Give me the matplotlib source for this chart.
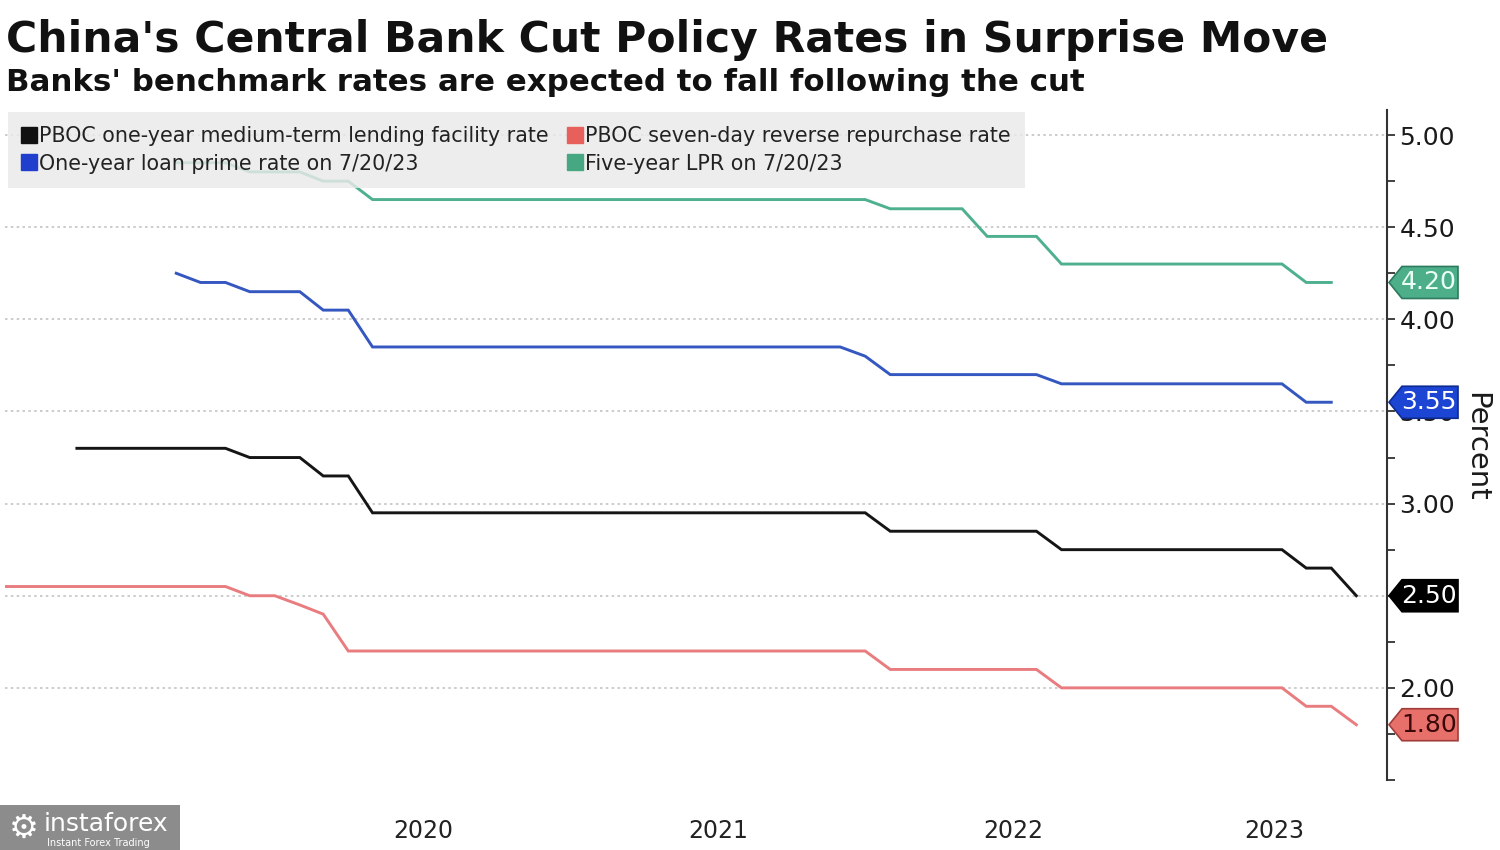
import matplotlib
matplotlib.use("Agg")
import matplotlib.pyplot as plt
import matplotlib.dates as mdates
from matplotlib.patches import Polygon, Rectangle
from matplotlib.lines import Line2D
import numpy as np
import pandas as pd

# ---------------- data (month-end observations) ----------------
months = pd.date_range("2019-01-31", "2023-08-31", freq="ME")
N = None

mlf_1y = [
    N, N, N, 3.30, 3.30, 3.30, 3.30, 3.30, 3.30, 3.30, 3.25, 3.25,          # 2019
    3.25, 3.15, 3.15, 2.95, 2.95, 2.95, 2.95, 2.95, 2.95, 2.95, 2.95, 2.95,  # 2020
    2.95, 2.95, 2.95, 2.95, 2.95, 2.95, 2.95, 2.95, 2.95, 2.95, 2.95, 2.95,  # 2021
    2.85, 2.85, 2.85, 2.85, 2.85, 2.85, 2.85, 2.75, 2.75, 2.75, 2.75, 2.75,  # 2022
    2.75, 2.75, 2.75, 2.75, 2.75, 2.65, 2.65, 2.50,                          # 2023
]
repo_7d = [
    2.55, 2.55, 2.55, 2.55, 2.55, 2.55, 2.55, 2.55, 2.55, 2.55, 2.50, 2.50,
    2.45, 2.40, 2.20, 2.20, 2.20, 2.20, 2.20, 2.20, 2.20, 2.20, 2.20, 2.20,
    2.20, 2.20, 2.20, 2.20, 2.20, 2.20, 2.20, 2.20, 2.20, 2.20, 2.20, 2.20,
    2.10, 2.10, 2.10, 2.10, 2.10, 2.10, 2.10, 2.00, 2.00, 2.00, 2.00, 2.00,
    2.00, 2.00, 2.00, 2.00, 2.00, 1.90, 1.90, 1.80,
]
lpr_1y = [
    N, N, N, N, N, N, N, 4.25, 4.20, 4.20, 4.15, 4.15,
    4.15, 4.05, 4.05, 3.85, 3.85, 3.85, 3.85, 3.85, 3.85, 3.85, 3.85, 3.85,
    3.85, 3.85, 3.85, 3.85, 3.85, 3.85, 3.85, 3.85, 3.85, 3.85, 3.85, 3.80,
    3.70, 3.70, 3.70, 3.70, 3.70, 3.70, 3.70, 3.65, 3.65, 3.65, 3.65, 3.65,
    3.65, 3.65, 3.65, 3.65, 3.65, 3.55, 3.55, N,
]
lpr_5y = [
    N, N, N, N, N, N, N, 4.85, 4.85, 4.85, 4.80, 4.80,
    4.80, 4.75, 4.75, 4.65, 4.65, 4.65, 4.65, 4.65, 4.65, 4.65, 4.65, 4.65,
    4.65, 4.65, 4.65, 4.65, 4.65, 4.65, 4.65, 4.65, 4.65, 4.65, 4.65, 4.65,
    4.60, 4.60, 4.60, 4.60, 4.45, 4.45, 4.45, 4.30, 4.30, 4.30, 4.30, 4.30,
    4.30, 4.30, 4.30, 4.30, 4.30, 4.20, 4.20, N,
]

labels = [
    "PBOC one-year medium-term lending facility rate",
    "One-year loan prime rate on 7/20/23",
    "PBOC seven-day reverse repurchase rate",
    "Five-year LPR on 7/20/23",
]
tag_values = [2.50, 3.55, 1.80, 4.20]
year_labels = [2019, 2020, 2021, 2022, 2023]
y_ticks = [2.00, 2.50, 3.00, 3.50, 4.00, 4.50, 5.00]

# ---------------- styles ----------------
line_colors = ["#151515", "#3457c0", "#e87c7f", "#4fb08f"]
square_colors = ["#111111", "#1f3fcc", "#e8605c", "#45a883"]
tag_fill = ["#000000", "#1c45d4", "#e8706a", "#4caf8a"]
tag_edge = ["#000000", "#0e2a90", "#a03c3a", "#2d7a5e"]
tag_text = ["#ffffff", "#ffffff", "#3a0a0a", "#eafff5"]

W, H = 1500, 850
fig = plt.figure(figsize=(15, 8.5), dpi=100)
ax_l, ax_r, ax_b, ax_t = 5, 1387, 780, 110
ax = fig.add_axes([ax_l / W, 1 - ax_b / H, (ax_r - ax_l) / W, (ax_b - ax_t) / H])

series = [mlf_1y, lpr_1y, repo_7d, lpr_5y]
for vals, c in zip(series, line_colors):
    ax.plot(months, np.array(vals, dtype=float), color=c, lw=2.1, zorder=3,
            solid_joinstyle="miter")

ymin, ymax = 1.50, 5.136
ax.set_ylim(ymin, ymax)
xmin = pd.Timestamp("2019-01-31")
xmax = pd.Timestamp("2023-10-08")
ax.set_xlim(xmin, xmax)

for s in ["left", "top", "bottom"]:
    ax.spines[s].set_visible(False)
ax.spines["right"].set_color("#333333")
ax.spines["right"].set_linewidth(1.5)

ax.yaxis.tick_right()
ax.set_yticks(y_ticks)
ax.set_yticklabels([f"{v:.2f}" for v in y_ticks])
ax.yaxis.set_minor_locator(matplotlib.ticker.MultipleLocator(0.25))
ax.tick_params(axis="y", which="major", length=6, width=1.3, color="#333333",
               pad=3, labelsize=18, labelcolor="#1a1a1a")
ax.tick_params(axis="y", which="minor", length=6, width=1.3, color="#333333")
for yv in y_ticks:
    ax.axhline(yv, color="#c4c4c4", lw=1.2, ls=(0, (1.5, 2)), zorder=1)

# year labels centred in the visible part of each year
x0n, x1n = mdates.date2num(xmin), mdates.date2num(xmax)
centers = []
for yr in year_labels:
    a = max(mdates.date2num(pd.Timestamp(f"{yr}-01-01")), x0n)
    b = min(mdates.date2num(pd.Timestamp(f"{yr + 1}-01-01")), x1n)
    centers.append((a + b) / 2)
ax.set_xticks(centers)
ax.set_xticklabels([str(y) for y in year_labels])
ax.tick_params(axis="x", length=0, pad=28, labelsize=17, labelcolor="#222222")

# legend
handles = [Line2D([], [], ls="none", marker="s", markersize=12, color=c) for c in square_colors]
leg = ax.legend(handles, labels, ncol=2, loc="upper left",
                bbox_to_anchor=(8 / W, 1 - 112 / H), bbox_transform=fig.transFigure,
                borderaxespad=0, fontsize=14.9, frameon=True, fancybox=False,
                facecolor="#eaeaea", edgecolor="none", framealpha=0.82,
                handlelength=0.6, handletextpad=0.2, labelspacing=0.35,
                columnspacing=0.95, borderpad=0.7)
for t in leg.get_texts():
    t.set_color("#222222")
leg.set_zorder(5)

# value tags
axw = ax_r - ax_l
ppu = (ax_b - ax_t) / (ymax - ymin)
tr = ax.get_yaxis_transform()
half = 16 / ppu
for v, f, e, tc in zip(tag_values, tag_fill, tag_edge, tag_text):
    xt = 1 + 2 / axw
    xb = 1 + 15 / axw
    xr = 1 + 71 / axw
    poly = Polygon([(xt, v), (xb, v + half), (xr, v + half), (xr, v - half), (xb, v - half)],
                   closed=True, transform=tr, facecolor=f, edgecolor=e, lw=1.2,
                   clip_on=False, zorder=6)
    ax.add_patch(poly)
    ax.text(1 + 42 / axw, v, f"{v:.2f}", transform=tr, ha="center", va="center",
            fontsize=18, color=tc, zorder=7, clip_on=False)

fig.text(1476 / W, 1 - 447 / H, "Percent", rotation=270, ha="center", va="center",
         fontsize=21, color="#1a1a1a")

# titles
r = fig.canvas.get_renderer()
def fit(txt, width):
    w = txt.get_window_extent(r).width
    txt.set_fontsize(txt.get_fontsize() * width / w)

t1 = fig.text(6 / W, 1 - 52 / H, "China's Central Bank Cut Policy Rates in Surprise Move",
              fontsize=28, fontweight="bold", ha="left", va="baseline", color="#111111")
fit(t1, 1318)
t2 = fig.text(6 / W, 1 - 91 / H, "Banks' benchmark rates are expected to fall following the cut",
              fontsize=20, fontweight="bold", ha="left", va="baseline", color="#111111")
fit(t2, 1076)

# watermark box
fig.patches.append(Rectangle((0, 0), 180 / W, 45 / H, transform=fig.transFigure,
                             facecolor="#8c8c8c", edgecolor="none", zorder=10))
fig.text(44 / W, 1 - 824 / H, "instaforex", fontsize=18, color="white",
         ha="left", va="center", zorder=11)
fig.text(47 / W, 1 - 843 / H, "Instant Forex Trading", fontsize=7, color="white",
         ha="left", va="center", zorder=11)
fig.text(24 / W, 1 - 828 / H, "\u2699", fontsize=24, color="white",
         ha="center", va="center", zorder=11)

fig.savefig("out.png", dpi=100)
